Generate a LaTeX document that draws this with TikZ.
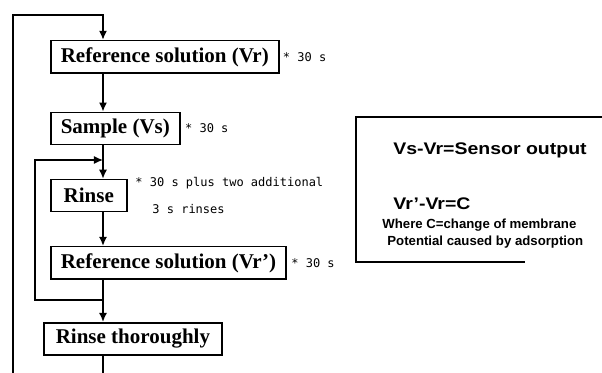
\documentclass[tikz,border=0pt]{standalone}
\usepackage{fontspec}
\setmainfont{Liberation Serif}
\setsansfont{Liberation Sans}
\setmonofont{DejaVu Sans Mono}
\usepackage{tikz}
\usetikzlibrary{arrows.meta,positioning}

\newcommand{\wide}[1]{\scalebox{1.16}[1]{#1}}

\begin{document}
\begin{tikzpicture}[x=0.5pt,y=-0.5pt,
  stepbox/.style={draw,line width=0.8pt,anchor=west,font=\fontsize{10.5}{12}\selectfont\bfseries,inner xsep=5pt,minimum height=16pt},
  note/.style={anchor=west,inner sep=0pt,font=\ttfamily\fontsize{6}{7}\selectfont},
  eq/.style={anchor=base west,inner sep=0pt,font=\sffamily\bfseries\fontsize{8.4}{10}\selectfont},
  small/.style={anchor=base west,inner sep=0pt,font=\sffamily\bfseries\fontsize{6.6}{8}\selectfont},
  arr/.style={-{Latex[length=4.5pt,width=4pt]},line width=0.7pt},
  ln/.style={line width=0.7pt}]
\useasboundingbox (0,0) rectangle (602,373);
\node[stepbox] (b1) at (50,57) {Reference solution (Vr)};
\node[stepbox] (b2) at (50,128.5) {Sample (Vs)};
\node[stepbox,minimum width=38pt] (b3) at (50,195.5) {Rinse};
\node[stepbox] (b4) at (50,263) {Reference solution (Vr’)};
\node[stepbox,inner xsep=6pt] (b5) at (43,339) {Rinse thoroughly};
% times
\node[note,right=1.5pt of b1] (n1) {* 30 s};
\node[note,right=2pt of b2] (n2) {* 30 s};
\node[note] (n3) at (135,183) {* 30 s plus two additional};
\node[note] (n4) at (152,209) {3 s rinses};
\node[note,right=2pt of b4] (n5) {* 30 s};
% flow
\coordinate (sp) at (103,0);
\draw[arr] (b1.south -| sp) -- (b2.north -| sp);
\draw[arr] (b2.south -| sp) -- (b3.north -| sp);
\draw[arr] (b3.south -| sp) -- (b4.north -| sp);
\draw[arr] (b4.south -| sp) -- (b5.north -| sp);
% rinse loop
\coordinate (rl) at (103,300);
\coordinate (rr) at (103,160);
\draw[arr] (rl) -- ++(-68,0) |- (rr);
% outer loop
\coordinate (lb) at (13,390);
\coordinate (lt) at (13,15);
\draw[arr,line width=1pt] (b5.south -| sp) |- (lb) -- (lt) -| (b1.north -| sp);
% legend
\coordinate (rtop) at (602,117);
\coordinate (rtl) at (356,117);
\coordinate (rbl) at (356,262);
\coordinate (rbot) at (525,262);
\draw[ln] (rtop) -- (rtl) -- (rbl) -- (rbot);
\node[eq] (eq1) at (393,155) {\wide{Vs-Vr=Sensor output}};
\node[eq] (eq2) at (393,210) {\wide{Vr’-Vr=C}};
\node[small] (def1) at (382,229) {Where C=change of membrane};
\node[small] (def2) at (387,246) {Potential caused by adsorption};
\end{tikzpicture}
\end{document}
